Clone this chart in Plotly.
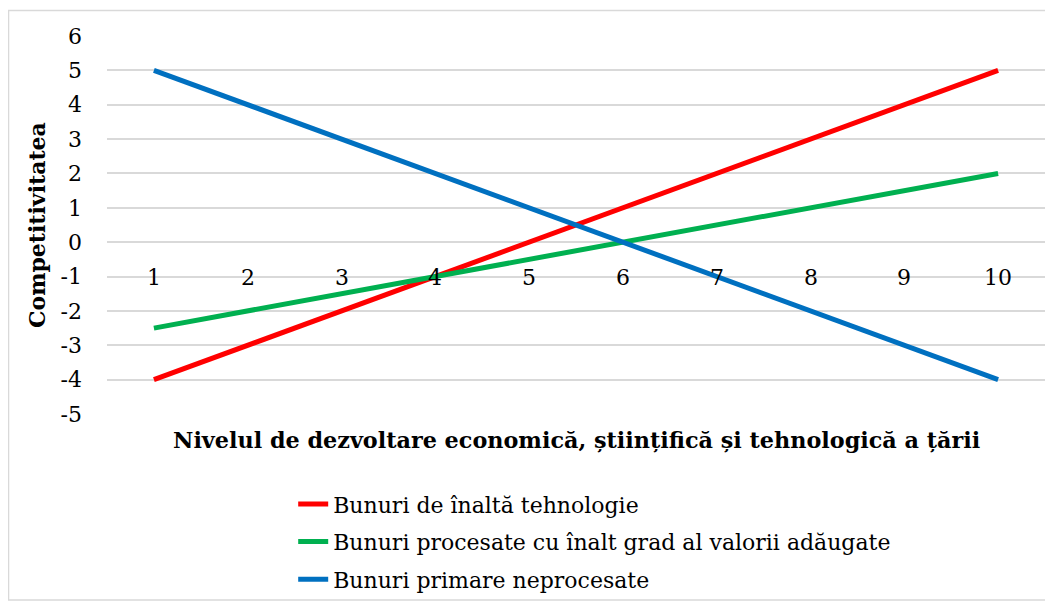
import plotly.graph_objects as go

levels = [1, 2, 3, 4, 5, 6, 7, 8, 9, 10]
level_labels = ["1", "2", "3", "4", "5", "6", "7", "8", "9", "10"]
high_tech = [-4, -3, -2, -1, 0, 1, 2, 3, 4, 5]
processed = [-2.5, -2, -1.5, -1, -0.5, 0, 0.5, 1, 1.5, 2]
primary = [5, 4, 3, 2, 1, 0, -1, -2, -3, -4]
y_ticks = [-5, -4, -3, -2, -1, 0, 1, 2, 3, 4, 5, 6]

series = [
    ("Bunuri de înaltă tehnologie", high_tech, "#FF0000"),
    ("Bunuri procesate cu înalt grad al valorii adăugate", processed, "#00B050"),
    ("Bunuri primare neprocesate", primary, "#0070C0"),
]

FONT = "DejaVu Serif"

fig = go.Figure()
for i, (name, vals, col) in enumerate(series):
    fig.add_trace(go.Scatter(
        x=levels, y=vals, mode="lines", name=name,
        line=dict(color=col, width=5),
        legendgroup=f"g{i}",
    ))

# category labels placed along the horizontal axis that crosses at y = 0
for xv, lab in zip(levels, level_labels):
    fig.add_annotation(
        x=xv, y=0, xref="x", yref="y", text=lab, showarrow=False,
        yanchor="middle", yshift=-35,
        font=dict(family=FONT, size=22, color="#000000"),
    )

fig.add_annotation(
    x=0.5, y=-0.0688, xref="paper", yref="paper",
    text="<b>Nivelul de dezvoltare economică, științifică și tehnologică a țării</b>",
    showarrow=False, xanchor="center", yanchor="middle",
    font=dict(family=FONT, size=22.3, color="#000000"),
)
fig.add_annotation(
    x=-0.0746, y=0.5, xref="paper", yref="paper",
    text="<b>Competitivitatea</b>", textangle=-90,
    showarrow=False, xanchor="center", yanchor="middle",
    font=dict(family=FONT, size=22, color="#000000"),
)

fig.add_shape(
    type="rect", xref="paper", yref="paper",
    x0=-0.105, x1=1.05, y0=-0.492, y1=1.0675,
    line=dict(color="#D9D9D9", width=1.5), fillcolor="rgba(0,0,0,0)",
    layer="below",
)

fig.update_xaxes(
    range=[0.5, 10.5], showticklabels=False, showgrid=False,
    zeroline=False, showline=False, ticks="",
)
fig.update_yaxes(
    range=[-5, 6], tickvals=y_ticks, ticktext=[str(v) for v in y_ticks],
    showgrid=True, gridcolor="#D9D9D9", gridwidth=1.5,
    zeroline=False, showline=False, ticks="",
    ticklabelstandoff=24,
    tickfont=dict(family=FONT, size=22, color="#000000"),
)

fig.update_layout(
    width=1045, height=593,
    margin=dict(l=99, r=8, t=28, b=187, autoexpand=False),
    paper_bgcolor="white", plot_bgcolor="white",
    showlegend=True,
    legend=dict(
        x=0.1985, y=-0.183, xanchor="left", yanchor="top",
        orientation="v", tracegroupgap=6,
        font=dict(family=FONT, size=22, color="#000000"),
        bgcolor="rgba(0,0,0,0)",
    ),
)

fig.write_html("out.html")
